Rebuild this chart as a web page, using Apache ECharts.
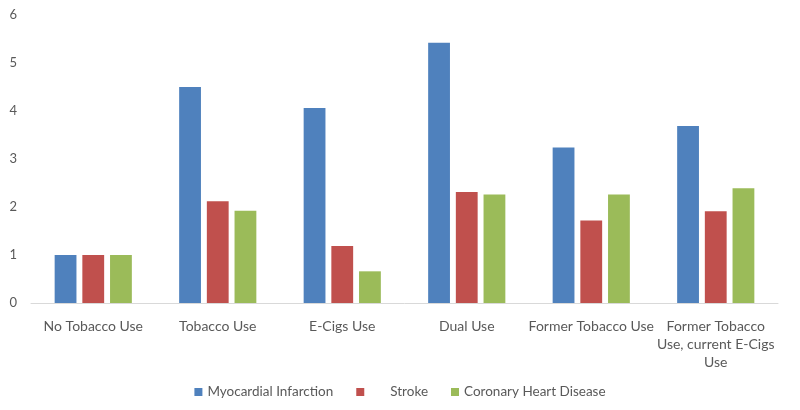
<!DOCTYPE html>
<html><head><meta charset="utf-8">
<script src="https://cdn.jsdelivr.net/npm/echarts@6/dist/echarts.min.js"></script>
<style>html,body{margin:0;padding:0;background:#fff}#c{width:800px;height:410px}</style>
</head><body><div id="c"></div>
<script>
const categories = ["No Tobacco Use","Tobacco Use","E-Cigs Use","Dual Use","Former Tobacco Use","Former Tobacco\nUse, current E-Cigs\nUse"];
const seriesNames = ["Myocardial Infarction","Stroke","Coronary Heart Disease"];
const myocardial = [1.0, 4.5, 4.06, 5.42, 3.24, 3.69];
const stroke = [1.0, 2.12, 1.19, 2.31, 1.72, 1.91];
const chd = [1.0, 1.92, 0.66, 2.26, 2.26, 2.39];
const colors = ["#4F81BD","#C0504D","#9BBB59"];
const font = "Lato";
const chart = echarts.init(document.getElementById('c'));
const mk = (name, data, i) => ({name, type:'bar', data, barGap:'27%', barCategoryGap:'38%', itemStyle:{color:colors[i]}});
chart.setOption({
  animation:false,
  color: colors,
  grid:{left:31,right:22,top:15,bottom:107},
  legend:{top:380,left:'center',itemWidth:8,itemHeight:8,itemGap:23,icon:'rect',
    textStyle:{fontFamily:font,fontSize:13.5,color:'#595959',rich:{p:{fontFamily:font,fontSize:13.5,color:'#595959',padding:[0,0,0,21]}}},
    formatter: n => n === 'Stroke' ? '{p|' + n + '}' : n,
    data:seriesNames},
  xAxis:{type:'category',data:categories,axisTick:{show:false},
    axisLine:{lineStyle:{color:'#d9d9d9'}},
    axisLabel:{fontFamily:font,fontSize:14,color:'#595959',margin:14,lineHeight:18,interval:0}},
  yAxis:{type:'value',min:0,max:6,interval:1,splitLine:{show:false},axisLine:{show:false},axisTick:{show:false},
    axisLabel:{fontFamily:font,fontSize:13,color:'#595959',margin:14}},
  series:[mk(seriesNames[0],myocardial,0),mk(seriesNames[1],stroke,1),mk(seriesNames[2],chd,2)]
});
</script></body></html>
